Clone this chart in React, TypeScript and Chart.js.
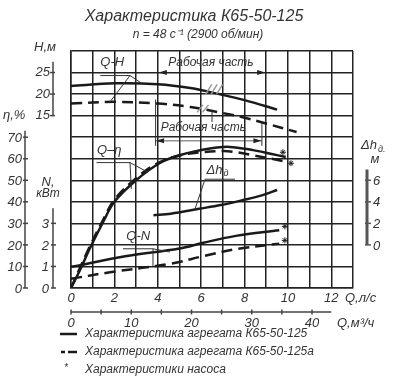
import { useEffect, useRef } from "react";
import { Chart, registerables } from "chart.js";
Chart.register(...registerables);

const titleText = "Характеристика К65-50-125";
const subtitleText = "n = 48 с⁻¹ (2900 об/мин)";
const legendTexts = [
  "Характеристика агрегата К65-50-125",
  "Характеристика агрегата К65-50-125а",
  "Характеристики насоса",
];

// Q, l/s
const qHSolid = [0, 2, 4, 5.5, 7, 8, 9.5];
const hSolid = [21.9, 22.5, 22.3, 21.4, 19.8, 18.6, 16.4];
const qHDash = [0, 2, 4, 5.5, 7, 8.1, 8.9, 10.4];
const hDash = [17.8, 18.2, 17.8, 17.0, 15.6, 14.4, 13.3, 11.2];
const qEtaSolid = [0, 0.4, 0.9, 1.5, 2, 3, 4.1, 5, 6.4, 7.3, 8.4, 9.2, 9.9];
const etaSolid = [0, 8, 19, 31, 40, 50, 58, 61.6, 64.7, 65.5, 64, 62.3, 60.8];
const qEtaDash = [0, 0.4, 0.9, 1.5, 2, 3, 4, 5, 6, 7, 7.5, 8.4, 10];
const etaDash = [0, 9, 20, 32, 41, 51, 58, 61.5, 63, 63.6, 63.2, 61.6, 58.5];
const qDh = [3.8, 4.6, 5.9, 6.9, 7.9, 8.8, 9.5];
const dhVals = [2.75, 2.9, 3.35, 3.7, 4.15, 4.6, 5.1];
const qNSolid = [0, 2.5, 5, 6.1, 7.6, 9.6];
const nSolid = [0.98, 1.47, 1.83, 2.1, 2.42, 2.68];
const qNDash = [0, 1.8, 4.6, 6.1, 7.6, 9.6];
const nDash = [0.43, 0.73, 1.13, 1.48, 1.8, 2.06];
const qPumpEta = [9.77, 10.14];
const etaPump = [63, 57.9];
const qPumpN = [9.86, 9.86];
const nPump = [2.86, 2.21];

// tick labels
const qLsTicks = [0, 2, 4, 6, 8, 10, 12];
const qM3Labels = [0, 10, 20, 30, 40];
const qM3Marks = [0, 5, 10, 15, 20, 25, 30, 35, 40];
const hTicks = [15, 20, 25];
const etaTicks = [0, 10, 20, 30, 40, 50, 60, 70];
const nTicks = [0, 1, 2, 3];
const dhTicks = [0, 2, 4, 6];

const INK = "#1a1a1a";
const TXT = "#333";
const FONT = "'Liberation Sans', Arial, sans-serif";

const pts = (xs: number[], ys: number[]) => xs.map((x, i) => ({ x, y: ys[i] }));

const overlay = {
  id: "overlay",
  afterDraw(chart: any) {
    const ctx = chart.ctx as CanvasRenderingContext2D;
    const sx = chart.scales.x;
    const sg = chart.scales.g;
    const sH = chart.scales.yH;
    const sE = chart.scales.yEta;
    const sN = chart.scales.yN;
    const sD = chart.scales.yDh;
    const X = (q: number) => sx.getPixelForValue(q);
    const R = (r: number) => sg.getPixelForValue(r);
    const fnt = (s: number) => `italic ${s}px ${FONT}`;
    ctx.save();
    ctx.fillStyle = TXT;
    ctx.strokeStyle = "#333";
    ctx.textBaseline = "middle";

    // title
    ctx.textAlign = "center";
    ctx.font = fnt(16);
    ctx.fillText(titleText, 194, 17);
    ctx.font = fnt(12);
    ctx.fillText(subtitleText, 198, 35);

    const line = (x1: number, y1: number, x2: number, y2: number, w = 1) => {
      ctx.lineWidth = w;
      ctx.beginPath();
      ctx.moveTo(x1, y1);
      ctx.lineTo(x2, y2);
      ctx.stroke();
    };

    // H axis
    const ax1 = 53;
    ctx.strokeStyle = "#444";
    line(ax1, sH.getPixelForValue(27.5), ax1, sH.getPixelForValue(15), 1.5);
    ctx.font = fnt(13);
    ctx.textAlign = "right";
    hTicks.forEach((v) => {
      const y = sH.getPixelForValue(v);
      line(ax1 - 3, y, ax1 + 2, y, 1.5);
      ctx.fillText(String(v), ax1 - 3, y);
    });
    ctx.textAlign = "left";
    ctx.fillText("Н,м", 34, 47);
    // eta axis
    const ax2 = 25;
    line(ax2, sE.getPixelForValue(73), ax2, sE.getPixelForValue(0), 1.5);
    ctx.textAlign = "right";
    etaTicks.forEach((v) => {
      const y = sE.getPixelForValue(v);
      line(ax2 - 2, y, ax2 + 3, y, 1.5);
      ctx.fillText(String(v), ax2 - 3, y + 1);
    });
    ctx.textAlign = "left";
    ctx.fillText("η,%", 3, sH.getPixelForValue(15));
    // N axis
    line(ax1, sN.getPixelForValue(3.7), ax1, sN.getPixelForValue(0), 1.5);
    ctx.textAlign = "right";
    nTicks.forEach((v) => {
      const y = sN.getPixelForValue(v);
      line(ax1 - 2, y, ax1 + 3, y, 1.5);
      ctx.fillText(String(v), ax1 - 4, y + 1);
    });
    ctx.textAlign = "center";
    ctx.fillText("N,", 48, 182);
    ctx.font = fnt(12);
    ctx.fillText("кВт", 48, 194);

    // dh axis (right)
    const ax3 = 367;
    ctx.strokeStyle = "#555";
    line(ax3, sD.getPixelForValue(7), ax3, sD.getPixelForValue(0), 3);
    ctx.font = fnt(13);
    ctx.textAlign = "left";
    dhTicks.forEach((v) => {
      const y = sD.getPixelForValue(v);
      line(ax3 - 2, y, ax3 + 4, y, 1.5);
      ctx.fillText(String(v), ax3 + 6, y + 1);
    });
    ctx.font = fnt(13);
    ctx.fillText("Δh", 361, 145);
    ctx.font = fnt(9);
    ctx.fillText("д.", 378, 149);
    ctx.font = fnt(13);
    ctx.textAlign = "center";
    ctx.fillText("м", 375, 159);

    // bottom Q l/s
    ctx.strokeStyle = "#444";
    ctx.font = fnt(13);
    ctx.textAlign = "center";
    const yb = chart.chartArea.bottom;
    qLsTicks.forEach((v) => ctx.fillText(String(v), X(v), yb + 10));
    ctx.textAlign = "left";
    ctx.fillText("Q,л/с", 345, yb + 10);
    // Q m3/h axis
    const ym = yb + 24;
    line(X(0), ym, X(12), ym, 1.5);
    qM3Marks.forEach((v) => line(X(v / 3.6), ym - 2.5, X(v / 3.6), ym + 2.5, 1.5));
    ctx.textAlign = "center";
    qM3Labels.forEach((v) => ctx.fillText(String(v), X(v / 3.6), ym + 11));
    ctx.textAlign = "left";
    ctx.fillText("Q,м³/ч", 337, ym + 11);

    // legend
    ctx.strokeStyle = INK;
    line(60, 334, 77, 334, 2.5);
    ctx.setLineDash([4, 3, 10, 0]);
    line(61, 352, 77, 352, 2.5);
    ctx.setLineDash([]);
    ctx.font = fnt(10);
    ctx.textAlign = "center";
    ctx.fillText("*", 66, 368);
    ctx.font = fnt(12);
    ctx.textAlign = "left";
    ctx.fillText(legendTexts[0], 85, 334);
    ctx.fillText(legendTexts[1], 85, 352);
    ctx.fillText(legendTexts[2], 85, 370);

    // annotations on plot
    ctx.strokeStyle = "#333";
    ctx.font = fnt(13);
    ctx.textAlign = "left";
    // Q-H
    ctx.fillText("Q-H", X(1.35), R(10.45));
    line(X(1.35), R(9.86), X(2.72), R(9.86), 1);
    line(X(2.72), R(9.86), X(1.8), R(8.64), 1);
    line(X(2.72), R(9.86), X(3.26), R(9.5), 1);
    // Q-eta
    ctx.fillText("Q–η", X(1.2), R(6.4));
    line(X(1.18), R(5.82), X(2.72), R(5.82), 1);
    line(X(2.72), R(5.82), X(2.78), R(4.6), 1);
    line(X(2.72), R(5.82), X(3.55), R(5.37), 1);
    // Q-N
    ctx.fillText("Q-N", X(2.55), R(2.4));
    line(X(2.4), R(1.82), X(3.78), R(1.82), 1);
    line(X(3.78), R(1.82), X(3.78), R(1.02), 1);
    line(X(3.78), R(1.82), X(4.56), R(1.67), 1);
    // dh
    ctx.fillText("Δh", X(6.25), R(5.45));
    ctx.font = fnt(9);
    ctx.fillText("д", X(6.25) + 17, R(5.3));
    line(X(6.18), R(5.05), X(7.56), R(5.05), 1);
    line(X(6.18), R(5.05), X(5.71), R(3.65), 1);

    // working region top
    ctx.font = fnt(12);
    ctx.textAlign = "center";
    ctx.fillText("Рабочая часть", X(6.45), R(10.45));
    const arrow = (xt: number, y: number, dir: number) => {
      ctx.fillStyle = "#222";
      ctx.beginPath();
      ctx.moveTo(xt, y);
      ctx.lineTo(xt + dir * 8, y - 2.5);
      ctx.lineTo(xt + dir * 8, y + 2.5);
      ctx.closePath();
      ctx.fill();
      ctx.fillStyle = TXT;
    };
    arrow(X(4.05), R(10), 1);
    arrow(X(8.95), R(10), -1);
    // working region bottom
    ctx.fillText("Рабочая часть", X(6.1), R(7.42));
    line(X(3.9), R(8.75), X(3.9), R(6.6), 1);
    line(X(8.8), R(7.65), X(8.8), R(6.6), 1);
    line(X(3.9), R(6.83), X(8.8), R(6.83), 0.8);
    arrow(X(3.92), R(6.83), 1);
    arrow(X(8.78), R(6.83), -1);
    line(X(6.5), R(8.2), X(6.5), R(7.7), 1);
    // hatches
    ctx.strokeStyle = "#9a9a9a";
    [6.35, 6.6, 6.85].forEach((q) => line(X(q) - 3, R(9.0), X(q) + 3, R(9.45), 1.5));
    [5.95, 6.2].forEach((q) => line(X(q) - 3, R(8.15), X(q) + 3, R(8.5), 1.5));

    ctx.restore();
  },
};

export default function App() {
  const ref = useRef<HTMLCanvasElement>(null);
  useEffect(() => {
    const solid = { borderColor: INK, borderWidth: 2.5, pointRadius: 0, tension: 0.35, fill: false };
    const dashed = { ...solid, borderDash: [11, 6] };
    const star = {
      type: "scatter" as const,
      pointStyle: "star",
      pointRadius: 3,
      borderColor: INK,
      borderWidth: 1,
      showLine: false,
    };
    const chart = new Chart(ref.current!, {
      type: "line",
      data: {
        datasets: [
          { ...solid, label: "H", data: pts(qHSolid, hSolid), yAxisID: "yH" },
          { ...dashed, label: "H a", data: pts(qHDash, hDash), yAxisID: "yH" },
          { ...solid, label: "eta", data: pts(qEtaSolid, etaSolid), yAxisID: "yEta" },
          { ...dashed, label: "eta a", data: pts(qEtaDash, etaDash), yAxisID: "yEta" },
          { ...solid, label: "dh", data: pts(qDh, dhVals), yAxisID: "yDh" },
          { ...solid, label: "N", data: pts(qNSolid, nSolid), yAxisID: "yN" },
          { ...dashed, label: "N a", data: pts(qNDash, nDash), yAxisID: "yN" },
          { ...star, label: "pump eta", data: pts(qPumpEta, etaPump), yAxisID: "yEta" } as any,
          { ...star, label: "pump N", data: pts(qPumpN, nPump), yAxisID: "yN" } as any,
        ],
      },
      options: {
        animation: false,
        responsive: false,
        layout: { padding: { left: 71, top: 51, right: 42, bottom: 101 } },
        plugins: { legend: { display: false }, tooltip: { enabled: false }, title: { display: false } },
        scales: {
          x: {
            type: "linear",
            min: 0,
            max: 13,
            ticks: { display: false, stepSize: 1 },
            grid: { color: "#222", lineWidth: 1.5, drawTicks: false },
            border: { color: "#222", width: 1.5 },
          },
          g: {
            type: "linear",
            position: "left",
            min: 0,
            max: 11,
            ticks: { display: false, stepSize: 1 },
            grid: { color: "#222", lineWidth: 1.5, drawTicks: false },
            border: { color: "#222", width: 1.5 },
          },
          yH: { type: "linear", display: false, min: -25, max: 30 },
          yEta: { type: "linear", display: false, min: 0, max: 110 },
          yN: { type: "linear", display: false, min: 0, max: 11 },
          yDh: { type: "linear", display: false, min: -4, max: 18 },
        },
      },
      plugins: [overlay],
    });
    return () => chart.destroy();
  }, []);
  return (
    <div style={{ position: "fixed", left: 0, top: 0, width: 395, height: 389, background: "#fff" }}>
      <canvas ref={ref} width={395} height={389} />
    </div>
  );
}
